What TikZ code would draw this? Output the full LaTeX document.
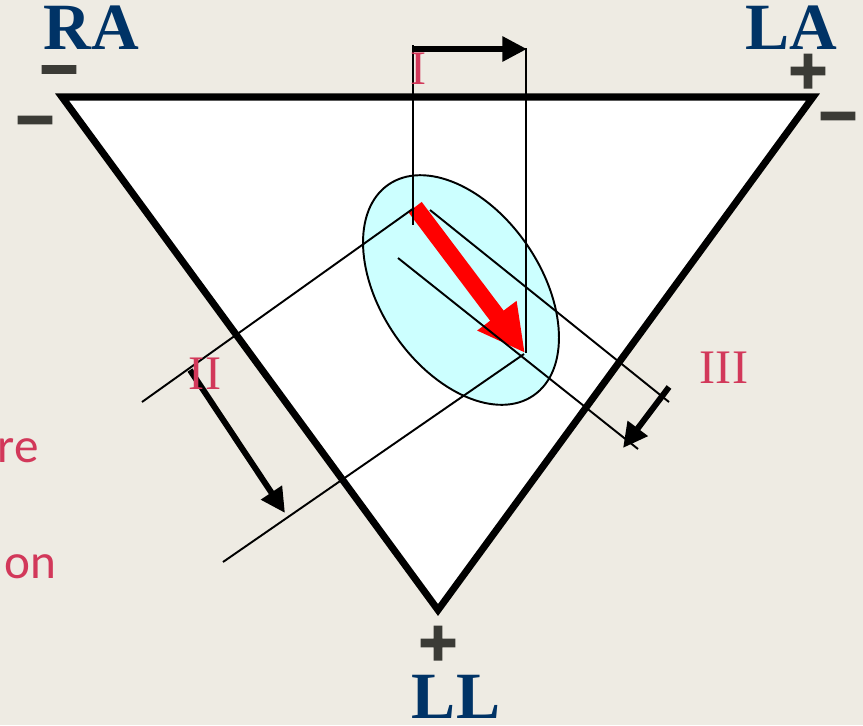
\documentclass[tikz,border=0pt]{standalone}
\usepackage{fontspec}
\setmainfont{Liberation Serif}
\newfontfamily\slidefont{Carlito}
\newfontface\signfont{DejaVu Sans Bold}[FakeBold=6]
\usetikzlibrary{arrows.meta,shapes.geometric}

\definecolor{slidebg}{RGB}{238,235,227}
\definecolor{leadred}{RGB}{210,56,90}
\definecolor{elecblue}{RGB}{0,51,102}
\definecolor{signgray}{RGB}{59,59,54}
\definecolor{heartcyan}{RGB}{204,255,255}

\begin{document}
\begin{tikzpicture}[
  x=0.02cm, y=-0.02cm,
  elec/.style={text=elecblue, font=\fontsize{37.6}{40}\selectfont\bfseries, inner sep=0},
  sign/.style={text=signgray, font=\signfont\fontsize{29}{29}\selectfont, inner sep=0},
  leadlabel/.style={text=leadred, font=\fontsize{27.4}{28}\selectfont, inner sep=0},
  side/.style={text=leadred, font=\slidefont\fontsize{28}{30}\selectfont, inner sep=0, anchor=east},
  proj/.style={line width=1.1pt},
  leadarrow/.style={line width=3.4pt, -{Triangle[length=14pt,width=13.6pt]}}
]
  \fill[slidebg] (0,0) rectangle (863,725);
  \useasboundingbox (0,0) rectangle (863,725);

  % Einthoven triangle
  \coordinate (ra) at (62,97);
  \coordinate (la) at (813,97);
  \coordinate (ll) at (438,610);
  \draw[line width=4pt, fill=white] (ra) -- (la) -- (ll) -- cycle;

  \node[ellipse, draw, fill=heartcyan, line width=1.1pt, inner sep=0,
        minimum width=5.12cm, minimum height=3.2cm, rotate=-55.5] (heart) at (461,290) {};

  % mean electrical axis
  \coordinate (axtail) at (415,207);
  \coordinate (axhead) at (525,353);
  \draw[red, line width=9.6pt, -{Triangle[length=26.6pt,width=26pt]}] (axtail) -- (axhead);

  % projection on lead I
  \coordinate (i1top) at (413,45);
  \coordinate (i1bot) at (413,225);
  \coordinate (i2top) at (526,48);
  \coordinate (i2bot) at (526,353);
  \draw[proj] (i1top) -- (i1bot);
  \draw[proj] (i2top) -- (i2bot);
  \coordinate (iA) at (413,49);
  \coordinate (iB) at (527,49);
  \draw[leadarrow] (iA) -- (iB);

  % projection on lead II
  \coordinate (ii1a) at (142,402);
  \coordinate (ii1b) at (414,208);
  \coordinate (ii2a) at (223,562);
  \coordinate (ii2b) at (524,354);
  \draw[proj] (ii1a) -- (ii1b);
  \draw[proj] (ii2a) -- (ii2b);
  \coordinate (iiA) at (190,370);
  \coordinate (iiB) at (285,513);
  \draw[leadarrow] (iiA) -- (iiB);

  % projection on lead III
  \coordinate (iii1a) at (430,210);
  \coordinate (iii1b) at (669,402);
  \coordinate (iii2a) at (398,258);
  \coordinate (iii2b) at (638,449);
  \draw[proj] (iii1a) -- (iii1b);
  \draw[proj] (iii2a) -- (iii2b);
  \coordinate (iiiA) at (669,387);
  \coordinate (iiiB) at (623,448);
  \draw[leadarrow] (iiiA) -- (iiiB);

  % labels
  \node[elec] (raname) at (91.5,28) {RA};
  \node[elec] (laname) at (791,28) {LA};
  \node[elec] (llname) at (456,697) {LL};

  \node[sign] (raminus) at (59,76) {−};
  \node[sign] (raminusb) at (35,126.5) {−};
  \node[sign] (laplus) at (808,71) {+};
  \node[sign] (laminus) at (838,122.5) {−};
  \node[sign] (llplus) at (438,643) {+};

  \node[leadlabel] (leadI) at (419,69) {I};
  \node[leadlabel] (leadII) at (205,374) {II};
  \node[leadlabel] (leadIII) at (724,368) {III};

  \node[side] (sidea) at (39,451) {re};
  \node[side] (sideb) at (57,566.5) {on};
\end{tikzpicture}
\end{document}
